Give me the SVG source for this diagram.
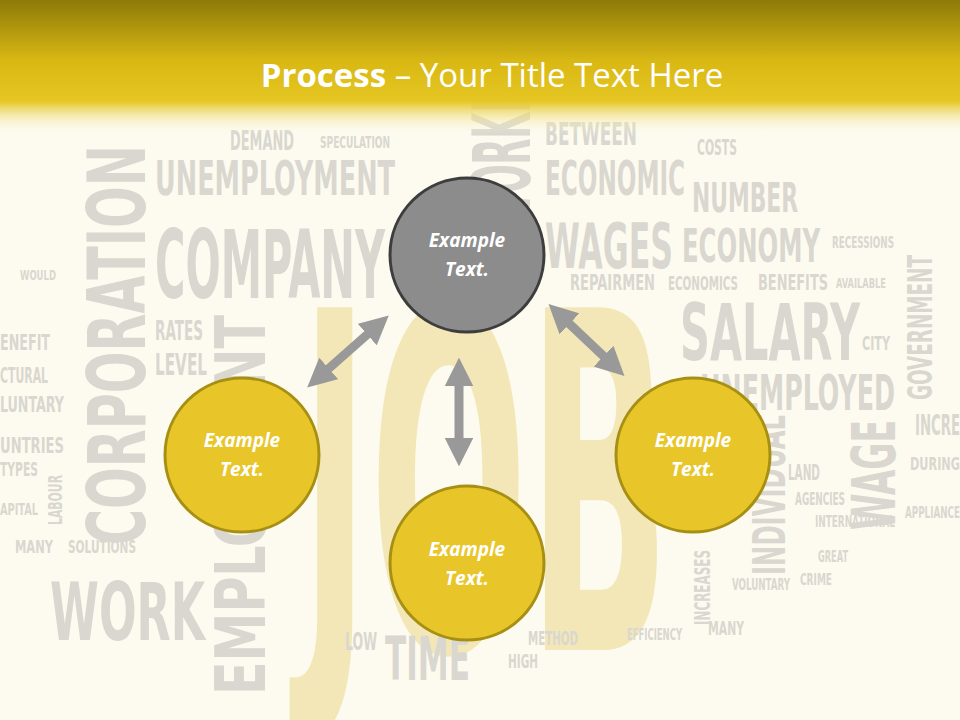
<svg xmlns="http://www.w3.org/2000/svg" width="960" height="720" viewBox="0 0 960 720">
<defs>
<linearGradient id="hdr" x1="0" y1="0" x2="0" y2="1">
<stop offset="0" stop-color="#8d7a08"/>
<stop offset="0.45" stop-color="#d9b814"/>
<stop offset="0.75" stop-color="#e6c622"/>
<stop offset="1" stop-color="#fdfbf0" stop-opacity="0"/>
</linearGradient>
<marker id="ah" viewBox="0 0 10 10" refX="5" refY="5" markerWidth="3.2" markerHeight="3.2" orient="auto-start-reverse">
<path d="M0,0 L10,5 L0,10 Z" fill="#999"/>
</marker>
<style>
.w{font-family:"Liberation Sans Narrow","DejaVu Sans Condensed","Liberation Sans",sans-serif;font-weight:bold;fill:#d9d7cf}
.yc{fill:#e8c62a;stroke:#a68f12;stroke-width:3}
.lbl{font-family:"Open Sans","Liberation Sans",sans-serif;font-style:italic;font-weight:bold;font-size:19px;fill:#fff;text-anchor:middle}
.con{stroke:#999;stroke-width:9;fill:none;marker-start:url(#ah);marker-end:url(#ah)}
</style>
</defs>
<rect width="960" height="720" fill="#fdfbf0"/>
<g id="background-words">
<text class="w" x="300" y="650" font-size="470" style="fill:#f3e7b8" textLength="370" lengthAdjust="spacingAndGlyphs">JOB</text>
<text class="w" x="155" y="298" font-size="95" textLength="230" lengthAdjust="spacingAndGlyphs">COMPANY</text>
<text class="w" x="155" y="195" font-size="48" textLength="240" lengthAdjust="spacingAndGlyphs">UNEMPLOYMENT</text>
<text class="w" x="545" y="195" font-size="48" textLength="140" lengthAdjust="spacingAndGlyphs">ECONOMIC</text>
<text class="w" x="545" y="145" font-size="32" textLength="92" lengthAdjust="spacingAndGlyphs">BETWEEN</text>
<text class="w" x="545" y="268" font-size="62" textLength="128" lengthAdjust="spacingAndGlyphs">WAGES</text>
<text class="w" x="682" y="262" font-size="46" textLength="138" lengthAdjust="spacingAndGlyphs">ECONOMY</text>
<text class="w" x="692" y="212" font-size="40" textLength="106" lengthAdjust="spacingAndGlyphs">NUMBER</text>
<text class="w" x="680" y="360" font-size="78" textLength="180" lengthAdjust="spacingAndGlyphs">SALARY</text>
<text class="w" x="700" y="410" font-size="50" textLength="195" lengthAdjust="spacingAndGlyphs">UNEMPLOYED</text>
<text class="w" x="570" y="290" font-size="22" textLength="85" lengthAdjust="spacingAndGlyphs">REPAIRMEN</text>
<text class="w" x="668" y="290" font-size="20" textLength="70" lengthAdjust="spacingAndGlyphs">ECONOMICS</text>
<text class="w" x="758" y="290" font-size="22" textLength="70" lengthAdjust="spacingAndGlyphs">BENEFITS</text>
<text class="w" x="50" y="640" font-size="80" textLength="155" lengthAdjust="spacingAndGlyphs">WORK</text>
<text class="w" x="385" y="680" font-size="60" textLength="85" lengthAdjust="spacingAndGlyphs">TIME</text>
<text class="w" x="155" y="340" font-size="26" textLength="48" lengthAdjust="spacingAndGlyphs">RATES</text>
<text class="w" x="155" y="375" font-size="30" textLength="52" lengthAdjust="spacingAndGlyphs">LEVEL</text>
<text class="w" x="230" y="150" font-size="26" textLength="64" lengthAdjust="spacingAndGlyphs">DEMAND</text>
<text class="w" x="320" y="148" font-size="16" textLength="70" lengthAdjust="spacingAndGlyphs">SPECULATION</text>
<text class="w" x="697" y="155" font-size="22" textLength="40" lengthAdjust="spacingAndGlyphs">COSTS</text>
<text class="w" x="832" y="248" font-size="16" textLength="62" lengthAdjust="spacingAndGlyphs">RECESSIONS</text>
<text class="w" x="862" y="350" font-size="20" textLength="28" lengthAdjust="spacingAndGlyphs">CITY</text>
<text class="w" x="788" y="480" font-size="22" textLength="32" lengthAdjust="spacingAndGlyphs">LAND</text>
<text class="w" x="795" y="505" font-size="18" textLength="50" lengthAdjust="spacingAndGlyphs">AGENCIES</text>
<text class="w" x="815" y="527" font-size="16" textLength="80" lengthAdjust="spacingAndGlyphs">INTERNATIONAL</text>
<text class="w" x="818" y="562" font-size="16" textLength="30" lengthAdjust="spacingAndGlyphs">GREAT</text>
<text class="w" x="800" y="585" font-size="16" textLength="32" lengthAdjust="spacingAndGlyphs">CRIME</text>
<text class="w" x="732" y="590" font-size="16" textLength="58" lengthAdjust="spacingAndGlyphs">VOLUNTARY</text>
<text class="w" x="708" y="635" font-size="20" textLength="36" lengthAdjust="spacingAndGlyphs">MANY</text>
<text class="w" x="627" y="640" font-size="16" textLength="55" lengthAdjust="spacingAndGlyphs">EFFICIENCY</text>
<text class="w" x="528" y="645" font-size="20" textLength="50" lengthAdjust="spacingAndGlyphs">METHOD</text>
<text class="w" x="508" y="668" font-size="20" textLength="30" lengthAdjust="spacingAndGlyphs">HIGH</text>
<text class="w" x="345" y="650" font-size="24" textLength="32" lengthAdjust="spacingAndGlyphs">LOW</text>
<text class="w" x="68" y="553" font-size="18" textLength="68" lengthAdjust="spacingAndGlyphs">SOLUTIONS</text>
<text class="w" x="15" y="553" font-size="18" textLength="38" lengthAdjust="spacingAndGlyphs">MANY</text>
<text class="w" x="0" y="350" font-size="22" textLength="50" lengthAdjust="spacingAndGlyphs">ENEFIT</text>
<text class="w" x="0" y="383" font-size="22" textLength="48" lengthAdjust="spacingAndGlyphs">CTURAL</text>
<text class="w" x="0" y="412" font-size="22" textLength="64" lengthAdjust="spacingAndGlyphs">LUNTARY</text>
<text class="w" x="0" y="453" font-size="22" textLength="64" lengthAdjust="spacingAndGlyphs">UNTRIES</text>
<text class="w" x="0" y="476" font-size="20" textLength="38" lengthAdjust="spacingAndGlyphs">TYPES</text>
<text class="w" x="0" y="515" font-size="16" textLength="38" lengthAdjust="spacingAndGlyphs">APITAL</text>
<text class="w" x="20" y="280" font-size="14" textLength="36" lengthAdjust="spacingAndGlyphs">WOULD</text>
<text class="w" x="905" y="518" font-size="16" textLength="55" lengthAdjust="spacingAndGlyphs">APPLIANCE</text>
<text class="w" x="910" y="470" font-size="18" textLength="50" lengthAdjust="spacingAndGlyphs">DURING</text>
<text class="w" x="915" y="435" font-size="28" textLength="45" lengthAdjust="spacingAndGlyphs">INCRE</text>
<text class="w" x="836" y="288" font-size="14" textLength="50" lengthAdjust="spacingAndGlyphs">AVAILABLE</text>
<text class="w" x="0" y="0" font-size="80" transform="translate(145,545) rotate(-90)" textLength="400" lengthAdjust="spacingAndGlyphs">CORPORATION</text>
<text class="w" x="0" y="0" font-size="70" transform="translate(265,695) rotate(-90)" textLength="380" lengthAdjust="spacingAndGlyphs">EMPLOYMENT</text>
<text class="w" x="0" y="0" font-size="80" transform="translate(530,230) rotate(-90)" textLength="130" lengthAdjust="spacingAndGlyphs">WORKI</text>
<text class="w" x="0" y="0" font-size="60" transform="translate(895,530) rotate(-90)" textLength="110" lengthAdjust="spacingAndGlyphs">WAGE</text>
<text class="w" x="0" y="0" font-size="45" transform="translate(785,575) rotate(-90)" textLength="160" lengthAdjust="spacingAndGlyphs">INDIVIDUAL</text>
<text class="w" x="0" y="0" font-size="34" transform="translate(932,400) rotate(-90)" textLength="145" lengthAdjust="spacingAndGlyphs">GOVERNMENT</text>
<text class="w" x="0" y="0" font-size="20" transform="translate(62,525) rotate(-90)" textLength="50" lengthAdjust="spacingAndGlyphs">LABOUR</text>
<text class="w" x="0" y="0" font-size="22" transform="translate(710,625) rotate(-90)" textLength="75" lengthAdjust="spacingAndGlyphs">INCREASES</text>
</g>
<rect width="960" height="135" fill="url(#hdr)"/>
<text x="492" y="87" text-anchor="middle" font-family="'Open Sans','Liberation Sans',sans-serif" font-size="33" fill="#fff"><tspan font-weight="bold">Process</tspan> – Your Title Text Here</text>
<g id="connectors">
<line class="con" x1="378" y1="325" x2="318" y2="378"/>
<line class="con" x1="459" y1="372" x2="459" y2="452"/>
<line class="con" x1="559" y1="314" x2="614" y2="366"/>
</g>
<g id="node-top"><circle cx="467" cy="255" r="77" fill="#8c8c8c" stroke="#3d3d3d" stroke-width="3"/><text class="lbl" x="467" y="247">Example</text><text class="lbl" x="467" y="276">Text.</text></g>
<g id="node-left"><circle class="yc" cx="242" cy="455" r="77"/><text class="lbl" x="242" y="447">Example</text><text class="lbl" x="242" y="476">Text.</text></g>
<g id="node-bottom"><circle class="yc" cx="467" cy="563" r="77"/><text class="lbl" x="467" y="556">Example</text><text class="lbl" x="467" y="585">Text.</text></g>
<g id="node-right"><circle class="yc" cx="693" cy="455" r="77"/><text class="lbl" x="693" y="447">Example</text><text class="lbl" x="693" y="476">Text.</text></g>
</svg>
